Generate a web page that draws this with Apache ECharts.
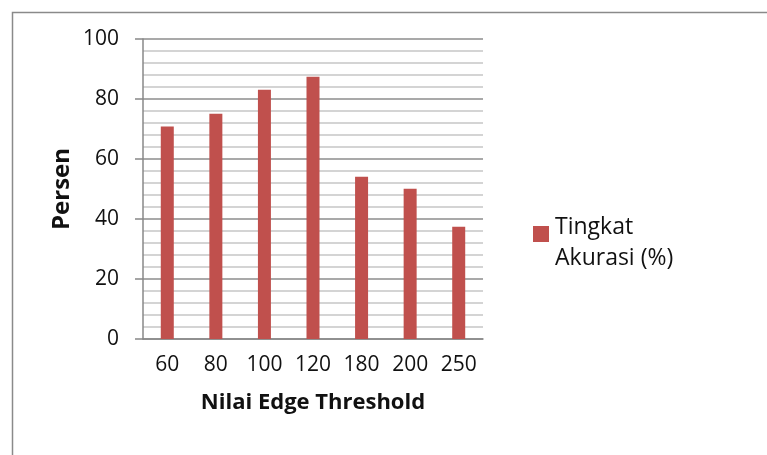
<!DOCTYPE html>
<html>
<head>
<meta charset="utf-8">
<script src="https://cdn.jsdelivr.net/npm/echarts@6/dist/echarts.min.js"></script>
<style>html,body{margin:0;padding:0;background:#fff;}#c{width:767px;height:455px;}</style>
</head>
<body>
<div id="c"></div>
<script>
const categories = ['60', '80', '100', '120', '180', '200', '250'];
const akurasi = [70.8, 75.1, 83.1, 87.4, 54.1, 50.1, 37.4];
const seriesName = 'Tingkat Akurasi (%)';
const legendLines = ['Tingkat', 'Akurasi (%)'];
const yTicks = { min: 0, max: 100, interval: 20 };

const chart = echarts.init(document.getElementById('c'));
const font = 'Open Sans';
chart.setOption({
  animation: false,
  backgroundColor: '#fff',
  graphic: [{
    type: 'rect', left: 10, top: 10,
    shape: { width: 800, height: 500 },
    style: { fill: 'none', stroke: '#8a8a8a', lineWidth: 1.5 },
    silent: true
  }],
  grid: { left: 143, right: 284, top: 39, bottom: 116 },
  legend: {
    left: 533, top: 198, padding: 0,
    itemWidth: 16, itemHeight: 16,
    icon: 'rect',
    formatter: function () {
      return '{s| }\n' + legendLines.map(function (l) { return '{a|' + l + '}'; }).join('\n');
    },
    textStyle: {
      fontFamily: font, fontSize: 23, color: '#111', padding: [0, 0, 0, 1],
      rich: {
        s: { fontSize: 10, lineHeight: 17 },
        a: { fontFamily: font, fontSize: 23, color: '#111', lineHeight: 31 }
      }
    },
    data: [seriesName]
  },
  xAxis: {
    type: 'category',
    data: categories,
    name: 'Nilai Edge Threshold',
    nameLocation: 'middle',
    nameGap: 53,
    nameTextStyle: { fontFamily: font, fontSize: 22, fontWeight: 'bold', color: '#111' },
    axisLine: { lineStyle: { color: '#888', width: 1.5 } },
    axisTick: { show: false },
    axisLabel: { fontFamily: font, fontSize: 21, color: '#111', margin: 16 },
    splitLine: { show: false }
  },
  yAxis: {
    type: 'value',
    min: yTicks.min, max: yTicks.max, interval: yTicks.interval,
    name: 'Persen',
    nameLocation: 'middle',
    nameGap: 69,
    nameTextStyle: { fontFamily: font, fontSize: 24, fontWeight: 'bold', color: '#111' },
    axisLine: { show: true, lineStyle: { color: '#888', width: 1.5 } },
    axisTick: { show: true, length: 8, lineStyle: { color: '#888', width: 1.5 } },
    axisLabel: { fontFamily: font, fontSize: 21, color: '#111', margin: 24 },
    splitLine: { show: true, lineStyle: { color: '#8c8c8c', width: 1.5 } },
    minorTick: { show: false, splitNumber: 5 },
    minorSplitLine: { show: true, lineStyle: { color: '#c6c6c6', width: 1.5 } }
  },
  series: [{
    name: seriesName,
    type: 'bar',
    data: akurasi,
    barWidth: 13,
    itemStyle: { color: '#C0504D' }
  }]
});
</script>
</body>
</html>
